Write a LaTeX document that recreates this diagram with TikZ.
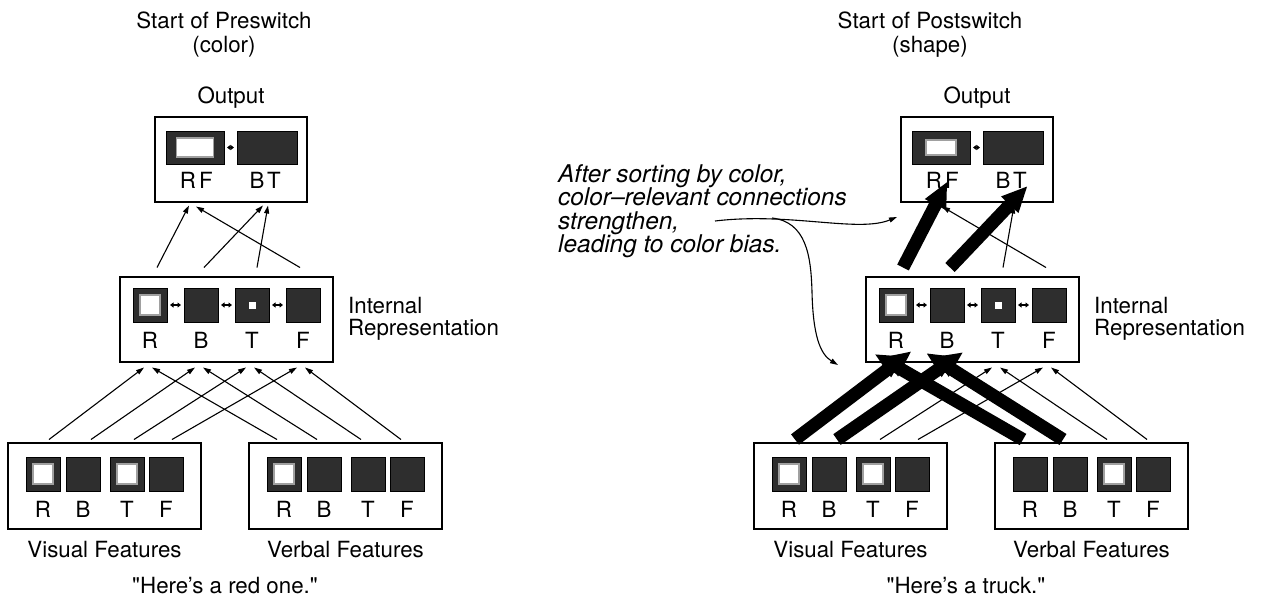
\documentclass[tikz,border=0pt]{standalone}
\usepackage{fontspec}
\newfontfamily\heros{TeX Gyre Heros}
\usetikzlibrary{arrows.meta}
\definecolor{celldark}{HTML}{2E2E2E}
\definecolor{ringgray}{HTML}{A0A0A0}
\tikzset{
  lbl/.style={font=\heros\fontsize{22.3}{22}\selectfont, inner sep=0pt, anchor=base},
  notetext/.style={font=\heros\fontsize{24.4}{23.5}\selectfont\itshape, inner sep=0pt, anchor=north west, align=left},
  layerbox/.style={draw=black, line width=2pt, fill=white, inner sep=0pt},
  cell/.style={draw=black, line width=1pt, fill=celldark, minimum size=34pt, inner sep=0pt},
  oncell/.style={cell, path picture={\draw[ringgray, line width=1.6pt, fill=white]
      ([shift={(-10pt,-10pt)}]path picture bounding box.center) rectangle
      ([shift={(10pt,10pt)}]path picture bounding box.center);}},
  dotcell/.style={cell, path picture={\fill[white]
      ([shift={(-3.5pt,-3.5pt)}]path picture bounding box.center) rectangle
      ([shift={(3.5pt,3.5pt)}]path picture bounding box.center);}},
  pairbox/.style={draw=black, line width=1pt, fill=celldark, minimum width=58pt, minimum height=33pt, inner sep=0pt},
  bighole/.style={path picture={\draw[ringgray, line width=1.6pt, fill=white]
      ([shift={(-18.5pt,-9.5pt)}]path picture bounding box.center) rectangle
      ([shift={(18.5pt,9.5pt)}]path picture bounding box.center);}},
  smallhole/.style={path picture={\draw[ringgray, line width=1.6pt, fill=white]
      ([shift={(-15pt,-7.5pt)}]path picture bounding box.center) rectangle
      ([shift={(15pt,7.5pt)}]path picture bounding box.center);}},
  couple/.style={line width=1.6pt, {Triangle[length=3.5pt,width=5pt]}-{Triangle[length=3.5pt,width=5pt]},
      shorten <=2.5pt, shorten >=2.5pt},
  wire/.style={line width=1.1pt, -{Triangle[length=8pt,width=5pt]}},
  heavy/.style={line width=13pt, -{Triangle[length=26pt,width=22pt]}, shorten >=-27pt},
  notearrow/.style={line width=1.1pt, -{Triangle[length=8pt,width=5pt]}},
}

% One network: output, internal and feature layers with their connections.
% #1 name prefix, #2 hole of the R/F output unit, #3 verbal R cell,
% #4 verbal T cell, #5 style of the colour connections
\newcommand\netpanel[5]{%
  % output layer
  \node[lbl] (#1outlbl) at (231,103) {Output};
  \node[layerbox, minimum width=152pt, minimum height=85pt] (#1out) at (231,159.5) {};
  \node[pairbox, #2] (#1oRF) at (195,147.5) {};
  \node[pairbox, minimum width=60pt] (#1oBT) at (267,147.5) {};
  \draw[couple] (#1oRF) -- (#1oBT);
  \node[lbl] (#1oRl) at (188,188.5) {R};
  \node[lbl] (#1oFl) at (206,188.5) {F};
  \node[lbl] (#1oBl) at (257,188.5) {B};
  \node[lbl] (#1oTl) at (274,188.5) {T};
  % internal layer
  \node[layerbox, minimum width=213pt, minimum height=85pt] (#1int) at (226.5,319.5) {};
  \node[oncell] (#1iR) at (150,305) {};
  \node[cell] (#1iB) at (201,305) {};
  \node[dotcell] (#1iT) at (252,305) {};
  \node[cell] (#1iF) at (303,305) {};
  \draw[couple] (#1iR) -- (#1iB);
  \draw[couple] (#1iB) -- (#1iT);
  \draw[couple] (#1iT) -- (#1iF);
  \foreach \cn in {R,B,T,F}
    \node[lbl] (#1i\cn l) at ([yshift=-26pt]#1i\cn.south) {\cn};
  \node[lbl, anchor=north west, align=left] (#1intlbl) at (348,297) {Internal\\Representation};
  % feature layers
  \node[layerbox, minimum width=193pt, minimum height=86pt] (#1vis) at (104.5,486) {};
  \node[oncell] (#1vR) at (43,474) {};
  \node[cell] (#1vB) at (83,474) {};
  \node[oncell] (#1vT) at (127,474) {};
  \node[cell] (#1vF) at (166,474) {};
  \node[layerbox, minimum width=193pt, minimum height=86pt] (#1ver) at (345.5,486) {};
  \node[#3] (#1wR) at (284,474) {};
  \node[cell] (#1wB) at (324,474) {};
  \node[#4] (#1wT) at (368,474) {};
  \node[cell] (#1wF) at (407,474) {};
  \foreach \cn in {R,B,T,F} {
    \node[lbl] (#1v\cn l) at ([yshift=-26pt]#1v\cn.south) {\cn};
    \node[lbl] (#1w\cn l) at ([yshift=-26pt]#1w\cn.south) {\cn};
  }
  \node[lbl] (#1vislbl) at (104.5,557) {Visual Features};
  \node[lbl] (#1verlbl) at (345.5,557) {Verbal Features};
  % shape connections
  \draw[wire] ([xshift=7pt,yshift=17pt]#1vT.north) -- ([xshift=-6pt,yshift=-45pt]#1iT.south);
  \draw[wire] ([xshift=6pt,yshift=17pt]#1vF.north) -- ([xshift=-6pt,yshift=-45pt]#1iF.south);
  \draw[wire] ([xshift=-7pt,yshift=17pt]#1wT.north) -- ([xshift=2pt,yshift=-45pt]#1iT.south);
  \draw[wire] ([xshift=-6pt,yshift=17pt]#1wF.north) -- ([xshift=2pt,yshift=-45pt]#1iF.south);
  \draw[wire] ([xshift=5pt,yshift=20pt]#1iT.north) -- ([xshift=1pt,yshift=-41pt]#1oBT.south);
  \draw[wire] ([xshift=-3pt,yshift=20pt]#1iF.north) -- ([xshift=1pt,yshift=-42pt]#1oRF.south);
  % colour connections
  \draw[#5] ([xshift=6pt,yshift=17pt]#1vR.north) -- ([xshift=-6pt,yshift=-45pt]#1iR.south);
  \draw[#5] ([xshift=8pt,yshift=17pt]#1vB.north) -- ([xshift=-6pt,yshift=-45pt]#1iB.south);
  \draw[#5] ([xshift=-7pt,yshift=17pt]#1wR.north) -- ([xshift=2pt,yshift=-45pt]#1iR.south);
  \draw[#5] ([xshift=-7pt,yshift=17pt]#1wB.north) -- ([xshift=2pt,yshift=-45pt]#1iB.south);
  \draw[#5] ([xshift=7pt,yshift=20pt]#1iR.north) -- ([xshift=-6pt,yshift=-41pt]#1oRF.south);
  \draw[#5] ([xshift=3pt,yshift=20pt]#1iB.north) -- ([xshift=-4pt,yshift=-41pt]#1oBT.south);
}

\begin{document}
\begin{tikzpicture}[x=1pt,y=-1pt]
\useasboundingbox (0,0) rectangle (1276,603);

% preswitch network
\node[lbl] (Ltitle) at (224,28) {Start of Preswitch};
\node[lbl] (Lsub) at (224,52) {(color)};
\netpanel{L}{bighole}{oncell}{cell}{wire}
\node[lbl] (Lquote) at (225,593) {"Here’s a red one."};

% postswitch network
\node[lbl] (Rtitle) at (930,28) {Start of Postswitch};
\node[lbl] (Rsub) at (930,52) {(shape)};
\begin{scope}[xshift=746pt]
  \netpanel{R}{smallhole}{cell}{oncell}{heavy}
\end{scope}
\node[lbl] (Rquote) at (966,593) {"Here’s a truck."};

% annotation
\node[notetext] (ann) at (558,164) {After sorting by color,\\color–relevant connections\\strengthen,\\leading to color bias.};
\coordinate (annfrom) at (715,221);
\coordinate (annsplit) at (772,218);
\coordinate (annout) at (897,217);
\coordinate (annin) at (838,365);
\draw[notearrow] (annfrom) .. controls (790,212) and (858,233) .. (annout);
\draw[notearrow] (annsplit) .. controls (806,222) and (811,255) .. (812,292)
                 .. controls (813,335) and (820,354) .. (annin);
\end{tikzpicture}
\end{document}
